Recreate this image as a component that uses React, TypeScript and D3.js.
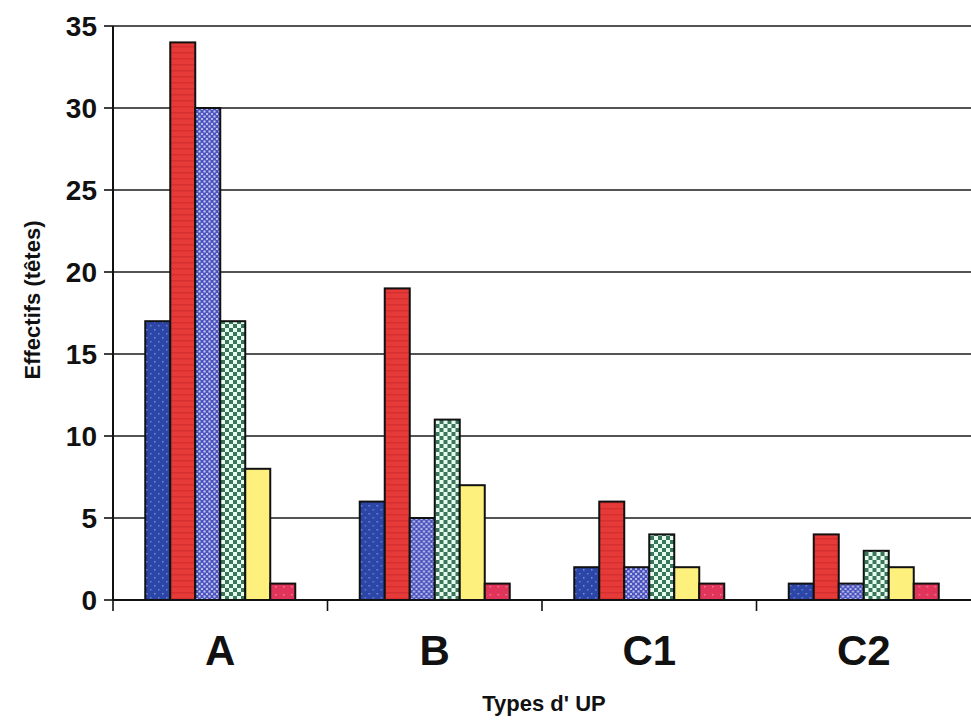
import React from "react";
import * as d3 from "d3";

// Livestock numbers per production-unit type
const categories = ["A", "B", "C1", "C2"];
const seriesKeys = ["s1", "s2", "s3", "s4", "s5", "s6"];
const s1 = [17, 6, 2, 1];
const s2 = [34, 19, 6, 4];
const s3 = [30, 5, 2, 1];
const s4 = [17, 11, 4, 3];
const s5 = [8, 7, 2, 2];
const s6 = [1, 1, 1, 1];
const yTicks = [0, 5, 10, 15, 20, 25, 30, 35];

const seriesValues = [s1, s2, s3, s4, s5, s6];
const fills = ["url(#pDots)", "url(#pRed)", "url(#pLav)", "url(#pGreen)", "#fdf07c", "url(#pPink)"];

const W = 971;
const H = 723;
const left = 113;
const right = 971;
const top = 26;
const bottom = 600;
const font = "'Liberation Sans', Arial, Helvetica, sans-serif";

export default function App() {
  const x = d3.scaleBand<string>().domain(categories).range([left, right]).paddingInner(0).paddingOuter(0);
  const xs = d3.scaleBand<string>().domain(seriesKeys).range([0, x.bandwidth()]).paddingInner(0).paddingOuter(1.29);
  const y = d3.scaleLinear().domain([0, 35]).range([bottom, top]);

  const boundaries = categories.map((c) => x(c) as number).concat([right]);

  return (
    <div style={{ position: "absolute", left: 0, top: 0, background: "#fff" }}>
      <svg width={W} height={H} style={{ display: "block" }}>
        <defs>
          <pattern id="pDots" width="8" height="8" patternUnits="userSpaceOnUse">
            <rect width="8" height="8" fill="#2b46a6" />
            <rect x="1" y="1" width="1.5" height="1.5" fill="#7d92d8" />
            <rect x="5" y="5" width="1.5" height="1.5" fill="#6a80cc" />
          </pattern>
          <pattern id="pRed" width="6" height="6" patternUnits="userSpaceOnUse">
            <rect width="6" height="6" fill="#e63a38" />
            <rect y="4" width="6" height="1.5" fill="#d5302f" />
          </pattern>
          <pattern id="pLav" width="5" height="5" patternUnits="userSpaceOnUse">
            <rect width="5" height="5" fill="#4a54bc" />
            <rect x="0.5" y="0.5" width="2" height="2" fill="#c9cbf2" />
            <rect x="3" y="3" width="2" height="2" fill="#b7baec" />
          </pattern>
          <pattern id="pGreen" width="8" height="8" patternUnits="userSpaceOnUse">
            <rect width="8" height="8" fill="#3a7459" />
            <rect x="0" y="0" width="4" height="4" fill="#e6fbef" />
            <rect x="4" y="4" width="4" height="4" fill="#e6fbef" />
          </pattern>
          <pattern id="pPink" width="8" height="8" patternUnits="userSpaceOnUse">
            <rect width="8" height="8" fill="#e0345a" />
            <rect x="2" y="2" width="1.5" height="1.5" fill="#f07a90" />
          </pattern>
        </defs>

        {/* horizontal gridlines */}
        {yTicks.filter((t) => t > 0).map((t) => (
          <line key={"g" + t} x1={left} x2={right} y1={y(t)} y2={y(t)} stroke="#1a1a1a" strokeWidth={1.6} />
        ))}

        {/* bars */}
        {categories.map((c, ci) => (
          <g key={c} transform={`translate(${x(c)},0)`}>
            {seriesKeys.map((k, si) => {
              const v = seriesValues[si][ci];
              return (
                <rect
                  key={k}
                  x={xs(k)}
                  y={y(v)}
                  width={xs.bandwidth()}
                  height={y(0) - y(v)}
                  fill={fills[si]}
                  stroke="#111"
                  strokeWidth={2}
                />
              );
            })}
          </g>
        ))}

        {/* axes */}
        <line x1={left} x2={left} y1={top} y2={bottom} stroke="#111" strokeWidth={2} />
        <line x1={left} x2={right} y1={bottom} y2={bottom} stroke="#111" strokeWidth={2} />
        {yTicks.map((t) => (
          <g key={"t" + t}>
            <line x1={left - 9} x2={left} y1={y(t)} y2={y(t)} stroke="#111" strokeWidth={1.6} />
            <text
              x={97}
              y={y(t)}
              dy="0.36em"
              textAnchor="end"
              fontFamily={font}
              fontWeight="bold"
              fontSize={28}
              fill="#111"
            >
              {t}
            </text>
          </g>
        ))}
        {boundaries.slice(0, 4).map((b, i) => (
          <line key={"xt" + i} x1={b} x2={b} y1={bottom} y2={bottom + 11} stroke="#111" strokeWidth={1.6} />
        ))}
        {categories.map((c) => (
          <text
            key={"l" + c}
            x={(x(c) as number) + x.bandwidth() / 2}
            y={665}
            textAnchor="middle"
            fontFamily={font}
            fontWeight="bold"
            fontSize={42}
            fill="#111"
          >
            {c}
          </text>
        ))}

        <text
          x={(left + right) / 2 + 2}
          y={711}
          textAnchor="middle"
          fontFamily={font}
          fontWeight="bold"
          fontSize={22}
          fill="#111"
        >
          Types d' UP
        </text>
        <text
          transform={`translate(40,${300}) rotate(-90)`}
          textAnchor="middle"
          fontFamily={font}
          fontWeight="bold"
          fontSize={22}
          fill="#111"
        >
          Effectifs (têtes)
        </text>
      </svg>
    </div>
  );
}
